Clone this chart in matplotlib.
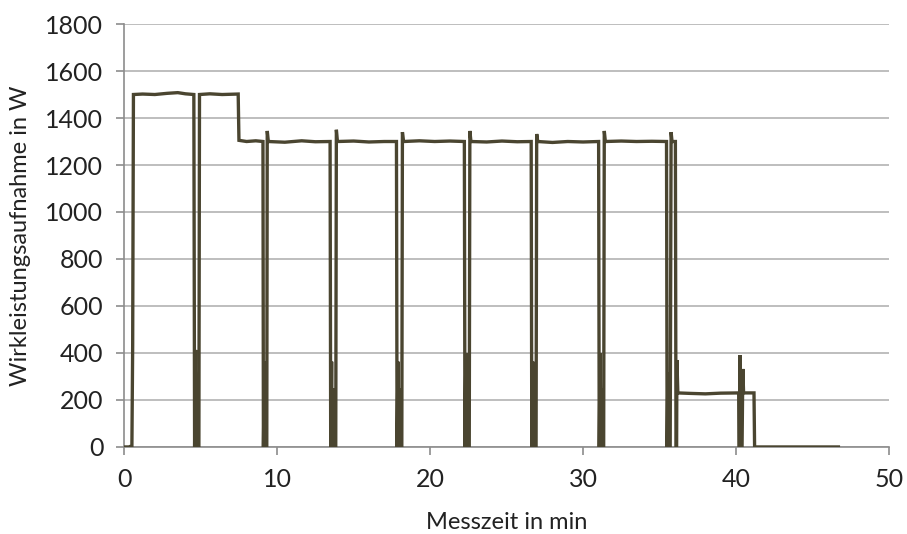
import matplotlib.pyplot as plt

plt.rcParams["font.family"] = ["Lato", "DejaVu Sans"]

# Messverlauf als Stützpunkte: Zeit in min, Wirkleistung in W
zeit_min = [
    0.0, 0.3, 0.5, 0.55, 0.6,
    1.2, 2.0, 2.8, 3.5, 4.0, 4.55,
    4.6, 4.66, 4.7, 4.74, 4.78, 4.88, 4.92,
    5.6, 6.4, 7.45,
    7.5, 8.0, 8.6, 9.07,
    9.1, 9.17, 9.21, 9.25, 9.28, 9.32, 9.35, 9.42,
    10.5, 11.6, 12.5, 13.46,
    13.5, 13.56, 13.6, 13.65, 13.7, 13.83, 13.87, 13.94,
    15.0, 16.0, 17.0, 17.8,
    17.84, 17.9, 17.94, 17.98, 18.02, 18.15, 18.19, 18.26,
    19.3, 20.3, 21.3, 22.24,
    22.28, 22.34, 22.38, 22.42, 22.46, 22.56, 22.6, 22.67,
    23.7, 24.7, 25.7, 26.61,
    26.65, 26.71, 26.75, 26.79, 26.83, 26.93, 26.97, 27.04,
    28.0, 29.0, 30.0, 31.02,
    31.06, 31.12, 31.16, 31.2, 31.24, 31.35, 31.39, 31.46,
    32.5, 33.5, 34.5, 35.46,
    35.5, 35.55, 35.59, 35.7, 35.76, 35.82, 36.04,
    36.08, 36.12, 36.14, 36.2,
    37.0, 38.0, 39.0, 40.18,
    40.22, 40.26, 40.3, 40.4, 40.45, 40.5,
    41.18, 41.22, 46.7,
]
leistung_w = [
    0, 0, 5, 430, 1500,
    1502, 1500, 1505, 1508, 1503, 1500,
    0, 413, 0, 243, 0, 0, 1500,
    1503, 1500, 1502,
    1305, 1300, 1303, 1300,
    0, 363, 0, 250, 0, 0, 1345, 1300,
    1297, 1303, 1299, 1300,
    0, 363, 0, 250, 0, 0, 1350, 1300,
    1302, 1298, 1300, 1300,
    0, 363, 0, 250, 0, 0, 1340, 1300,
    1303, 1300, 1302, 1300,
    0, 400, 0, 250, 0, 0, 1345, 1300,
    1298, 1302, 1299, 1300,
    0, 363, 0, 250, 0, 0, 1332, 1300,
    1296, 1300, 1298, 1300,
    0, 400, 0, 250, 0, 0, 1345, 1300,
    1302, 1300, 1301, 1300,
    0, 315, 0, 0, 1340, 1300, 1300,
    0, 0, 370, 230,
    228, 226, 229, 230,
    0, 391, 0, 0, 332, 230,
    230, 0, 0,
]

fig, ax = plt.subplots(figsize=(9.07, 5.34), dpi=100)
fig.subplots_adjust(left=0.137, right=0.98, top=0.955, bottom=0.163)

ax.plot(zeit_min, leistung_w, color="#4a4530", lw=2.4, solid_joinstyle="miter", zorder=3)

ax.set_xlim(0, 50)
ax.set_ylim(0, 1800)
ax.set_xticks(range(0, 51, 10))
ax.set_yticks(range(0, 1801, 200))
ax.yaxis.grid(True, color="#b3b3b3", lw=1.2)
ax.set_axisbelow(True)

for side in ("top", "right"):
    ax.spines[side].set_visible(False)
for side in ("left", "bottom"):
    ax.spines[side].set_color("#8c8c8c")
    ax.spines[side].set_linewidth(1.2)

ax.tick_params(axis="both", direction="out", length=6, width=1.2, color="#8c8c8c",
               labelsize=18, labelcolor="#222222")
ax.tick_params(axis="y", pad=9)
ax.tick_params(axis="x", pad=9)

ax.set_xlabel("Messzeit in min", fontsize=17, color="#222222", labelpad=15)
ax.set_ylabel("Wirkleistungsaufnahme in W", fontsize=17, color="#222222", labelpad=10)

fig.savefig("out.png")
